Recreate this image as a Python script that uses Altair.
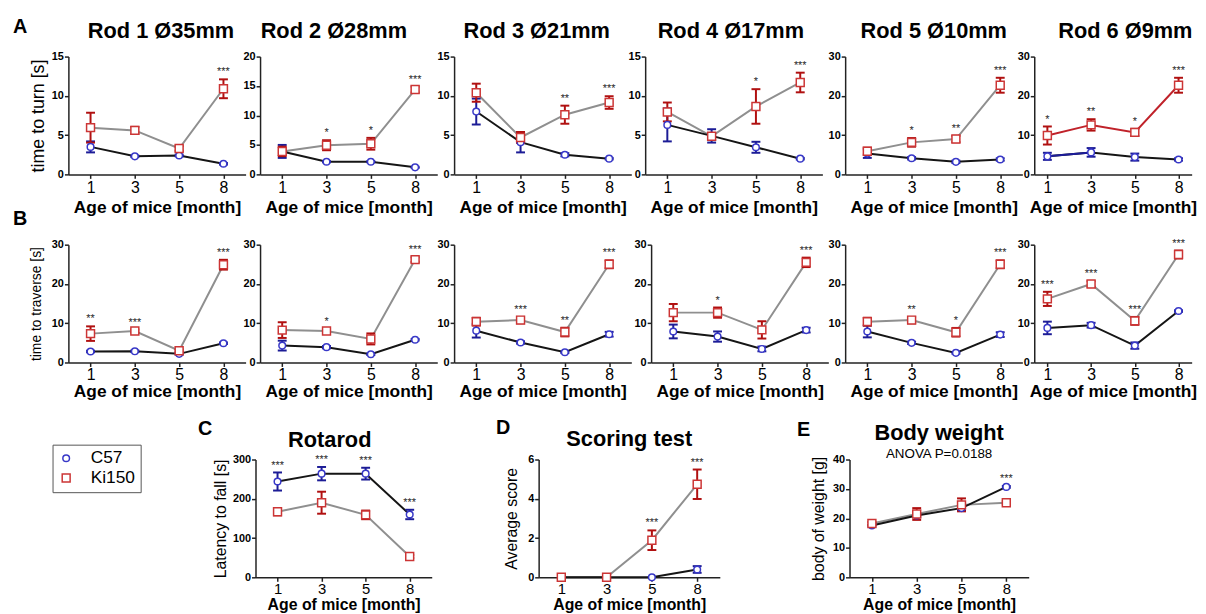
import altair as alt
import pandas as pd

FONT = "Liberation Sans"

months = [1, 3, 5, 8]
groups = ["C57", "Ki150"]

# ---------- A: time to turn [s] ----------
rod_titles = ["Rod 1 Ø35mm", "Rod 2 Ø28mm", "Rod 3 Ø21mm", "Rod 4 Ø17mm", "Rod 5 Ø10mm", "Rod 6 Ø9mm"]
turn_ymax = [15, 20, 15, 15, 30, 30]
turn_ystep = [5, 5, 5, 5, 10, 10]
turn_c57_mean = [[3.5, 2.3, 2.4, 1.35], [3.9, 2.15, 2.15, 1.2], [8.0, 4.1, 2.5, 2.0],
                 [6.3, 4.9, 3.45, 2.0], [5.3, 4.1, 3.2, 3.8], [4.6, 5.6, 4.4, 3.8]]
turn_c57_sd = [[0.7, 0.1, 0.1, 0.1], [1.1, 0.1, 0.1, 0.1], [1.65, 1.3, 0.2, 0.1],
               [2.1, 0.85, 0.7, 0.1], [1.1, 0.3, 0.3, 0.3], [0.9, 1.1, 0.9, 0.3]]
turn_ki_mean = [[5.95, 5.6, 3.3, 10.9], [3.9, 4.95, 5.2, 14.4], [10.4, 4.7, 7.6, 9.15],
                [7.95, 4.85, 8.65, 11.7], [5.9, 8.15, 9.0, 22.7], [9.9, 12.6, 10.7, 22.7]]
turn_ki_sd = [[1.9, 0.45, 0.3, 1.2], [0.8, 0.85, 1.0, 0.5], [1.15, 0.7, 1.15, 0.8],
              [1.2, 0.4, 2.2, 1.25], [0.9, 1.1, 0.8, 1.9], [2.3, 1.45, 0.9, 1.9]]
turn_stars = [["", "", "", "***"], ["", "*", "*", "***"], ["", "", "**", "***"],
              ["", "", "*", "***"], ["", "*", "**", "***"], ["*", "**", "*", "***"]]

# ---------- B: time to traverse [s] ----------
trav_c57_mean = [[2.8, 2.85, 2.2, 4.9], [4.3, 3.9, 2.1, 5.8], [8.1, 5.1, 2.6, 7.2],
                 [7.9, 6.6, 3.45, 8.25], [7.9, 5.0, 2.45, 7.1], [8.8, 9.5, 4.3, 13.1]]
trav_c57_sd = [[0.2, 0.2, 0.2, 0.2], [1.25, 0.3, 0.2, 0.2], [1.75, 0.3, 0.2, 0.6],
               [1.75, 1.3, 0.6, 0.6], [1.5, 0.3, 0.2, 0.6], [1.6, 0.6, 0.8, 0.2]]
trav_ki_mean = [[7.35, 8.0, 3.0, 24.9], [8.25, 8.0, 6.0, 26.2], [10.4, 10.8, 7.75, 25.0],
                [12.7, 12.7, 8.3, 25.5], [10.4, 10.8, 7.7, 25.0], [16.2, 20.0, 10.6, 27.5]]
trav_ki_sd = [[1.85, 0.4, 0.3, 1.25], [2.0, 0.6, 1.4, 0.6], [1.0, 0.8, 1.1, 1.0],
              [2.2, 1.3, 2.2, 1.2], [1.0, 0.8, 1.1, 1.0], [1.8, 0.7, 1.0, 1.0]]
trav_stars = [["**", "***", "", "***"], ["", "*", "", "***"], ["", "***", "**", "***"],
              ["", "*", "", "***"], ["", "**", "*", "***"], ["***", "***", "***", "***"]]

# ---------- C: Rotarod ----------
rot_c57_mean = [244, 264, 264, 160]
rot_c57_sd = [23, 17, 15, 12]
rot_ki_mean = [167, 190, 159, 53]
rot_ki_sd = [9, 28, 11, 4]
rot_stars = ["***", "***", "***", "***"]

# ---------- D: Scoring test ----------
score_c57_mean = [0, 0, 0, 0.4]
score_c57_sd = [0, 0, 0, 0.17]
score_ki_mean = [0, 0, 1.89, 4.74]
score_ki_sd = [0, 0, 0.5, 0.75]
score_stars = ["", "", "***", "***"]

# ---------- E: Body weight ----------
wt_c57_mean = [17.6, 21.0, 23.5, 30.7]
wt_c57_sd = [0.3, 0.5, 0.8, 0.3]
wt_ki_mean = [18.25, 21.5, 24.6, 25.3]
wt_ki_sd = [0.5, 2.0, 2.2, 0.5]
wt_stars = ["", "", "", "***"]

BLUE_PT = "#3838c8"
BLUE_ERR = "#1c1c96"
BLUE_LINE = "#1c1c9a"
RED_PT = "#cc3535"
RED_ERR = "#b01010"
GRAY_LINE = "#8f8f8f"
BLACK_LINE = "#151515"
RED_LINE = "#c0222a"

LEG = alt.Legend(title=None, orient="none", legendX=-16, legendY=392, labelFontSize=17.5,
                 labelFont=FONT, symbolSize=80, symbolStrokeWidth=1.5, labelOffset=16,
                 padding=5, strokeColor="#555555", rowPadding=1)


def text_layer(txt, x, y, size, weight="bold", align="left"):
    return alt.Chart(pd.DataFrame({"t": [txt]})).mark_text(
        fontSize=size, fontWeight=weight, align=align, baseline="alphabetic",
        color="black", font=FONT).encode(x=alt.value(x), y=alt.value(y), text="t:N")


def panel(c57m, c57s, kim, kis, stars, ymax, ystep, W=179, H=119, title=None, title_x=None,
          title_y=-19, letter=None, letter_x=-56, letter_y=-24, ytitle=None, ytitle_size=18,
          ytitle_pad=4, ki_line=GRAY_LINE, c57_line=BLACK_LINE, c57_first_seg=None,
          subtitle=None, subtitle_y=-2, xlab_size=16, xtitle_size=17.5, xtitle_pad=3,
          xlab_pad=1, xpad=0.5):
    rows = []
    for g, mm, ss in (("C57", c57m, c57s), ("Ki150", kim, kis)):
        for mo, v, e in zip(months, mm, ss):
            rows.append({"month": mo, "group": g, "mean": v, "lo": v - e, "hi": v + e, "sd": e})
    df = pd.DataFrame(rows)
    sdf = pd.DataFrame({"month": months, "star": stars,
                        "top": [max(a + b, c + d) for a, b, c, d in zip(c57m, c57s, kim, kis)]})
    sdf = sdf[sdf["star"] != ""]

    xax = alt.Axis(title="Age of mice [month]", labelAngle=0, labelFontSize=xlab_size,
                   titleFontSize=xtitle_size, titlePadding=xtitle_pad, labelPadding=xlab_pad)
    X = alt.X("month:O", scale=alt.Scale(type="point", domain=months, padding=xpad), axis=xax)
    yax = alt.Axis(values=list(range(0, ymax + 1, ystep)), title=ytitle,
                   titleFontSize=ytitle_size, titlePadding=ytitle_pad)
    ysc = alt.Scale(domain=[0, ymax], nice=False)

    def Y(f):
        return alt.Y(f"{f}:Q", scale=ysc, axis=yax)

    base = alt.Chart(df)
    layers = []
    for g, col in (("Ki150", ki_line), ("C57", c57_line)):
        layers.append(base.transform_filter(alt.datum.group == g)
                      .mark_line(color=col, strokeWidth=2).encode(x=X, y=Y("mean")))
    if c57_first_seg:
        layers.append(base.transform_filter((alt.datum.group == "C57") & (alt.datum.month <= 3))
                      .mark_line(color=c57_first_seg, strokeWidth=2).encode(x=X, y=Y("mean")))
    for g, col in (("C57", BLUE_ERR), ("Ki150", RED_ERR)):
        b = base.transform_filter((alt.datum.group == g) & (alt.datum.sd > 0))
        layers.append(b.mark_rule(color=col, strokeWidth=2).encode(x=X, y=Y("lo"), y2="hi:Q"))
        layers.append(b.mark_tick(color=col, thickness=2, size=9, orient="horizontal", opacity=1)
                      .encode(x=X, y=Y("lo")))
        layers.append(b.mark_tick(color=col, thickness=2, size=9, orient="horizontal", opacity=1)
                      .encode(x=X, y=Y("hi")))
    layers.append(base.mark_point(filled=False, fill="white", fillOpacity=1, strokeWidth=1.5, opacity=1)
                  .encode(x=X, y=Y("mean"),
                          color=alt.Color("group:N", scale=alt.Scale(domain=groups, range=[BLUE_PT, RED_PT]), legend=LEG),
                          shape=alt.Shape("group:N", scale=alt.Scale(domain=groups, range=["circle", "square"]), legend=LEG),
                          size=alt.Size("group:N", scale=alt.Scale(domain=groups, range=[45, 64]), legend=None)))
    layers.append(alt.Chart(sdf).mark_text(fontSize=11, color="#2a2a2a", baseline="bottom", dy=-2, font=FONT)
                  .encode(x=X, y=Y("top"), text="star:N"))
    if title:
        layers.append(text_layer(title, W / 2 if title_x is None else title_x, title_y, 22, align="center"))
    if subtitle:
        layers.append(text_layer(subtitle, W / 2, subtitle_y, 13.5, weight="normal", align="center"))
    if letter:
        layers.append(text_layer(letter, letter_x, letter_y, 20))
    return alt.layer(*layers).properties(width=W, height=H)


def chain(panels, spacings):
    c = panels[0]
    for p, s in zip(panels[1:], spacings):
        c = alt.hconcat(c, p, spacing=s)
    return c


title_x_A = [93.5, 74.5, 83.5, 86.5, 89.5, 92]
spacing_A = [-4.4, -2.4, -5.4, 3.6, -7.4]
spacing_B = [-4.4, -2.4, 0.6, -2.4, -7.4]

rowA = []
for i in range(6):
    rowA.append(panel(turn_c57_mean[i], turn_c57_sd[i], turn_ki_mean[i], turn_ki_sd[i], turn_stars[i],
                      turn_ymax[i], turn_ystep[i], title=rod_titles[i], title_x=title_x_A[i],
                      W=159 if i == 5 else 179, xpad=0.3 if i == 5 else 0.5,
                      letter="A" if i == 0 else None,
                      ytitle="time to turn [s]" if i == 0 else None, ytitle_size=18,
                      ki_line=RED_LINE if i == 5 else GRAY_LINE,
                      c57_first_seg=BLUE_LINE if i == 5 else None))
rowB = []
for i in range(6):
    rowB.append(panel(trav_c57_mean[i], trav_c57_sd[i], trav_ki_mean[i], trav_ki_sd[i], trav_stars[i],
                      30, 10, letter="B" if i == 0 else None, letter_y=-20,
                      W=159 if i == 5 else 179, xpad=0.3 if i == 5 else 0.5,
                      ytitle="time to traverse [s]" if i == 0 else None, ytitle_size=14, ytitle_pad=8,
                      xtitle_pad=0, xlab_pad=0))

pC = panel(rot_c57_mean, rot_c57_sd, rot_ki_mean, rot_ki_sd, rot_stars, 300, 100, W=178,
           title="Rotarod", title_x=75, title_y=-13, letter="C", letter_x=-58, letter_y=-25,
           ytitle="Latency to fall [s]", ytitle_size=16,
           xlab_size=15, xtitle_size=16, xtitle_pad=0, xlab_pad=0)
pD = panel(score_c57_mean, score_c57_sd, score_ki_mean, score_ki_sd, score_stars, 6, 2, W=183,
           title="Scoring test", title_y=-14, letter="D", letter_x=-43, letter_y=-26,
           ytitle="Average score", ytitle_size=16, ytitle_pad=8,
           xlab_size=15, xtitle_size=16, xtitle_pad=0, xlab_pad=0)
pE = panel(wt_c57_mean, wt_c57_sd, wt_ki_mean, wt_ki_sd, wt_stars, 40, 10, W=181,
           title="Body weight", title_y=-19.5, subtitle="ANOVA P=0.0188", subtitle_y=-2,
           letter="E", letter_x=-53, letter_y=-24,
           ytitle="body of weight [g]", ytitle_size=16, ytitle_pad=6,
           xlab_size=15, xtitle_size=16, xtitle_pad=0, xlab_pad=0)

# empty block that keeps the space taken by the legend on the left of row C
spacer = alt.Chart(pd.DataFrame({"t": [""]})).mark_text(opacity=0).encode(
    text="t:N").properties(width=130, height=10)

top = alt.vconcat(chain(rowA, spacing_A), chain(rowB, spacing_B), spacing=-8)
rowC = chain([spacer, pC, pD, pE], [0, 63, 76])

chart = alt.vconcat(top, rowC, spacing=17).properties(
    padding={"left": 4, "top": 5, "right": 0, "bottom": 0}
).configure(font=FONT, background="white").configure_axis(
    domainColor="#222222", domainWidth=1.5, tickColor="#222222", tickWidth=1.5, tickSize=4,
    grid=False, labelColor="black", titleColor="black", labelFont=FONT, titleFont=FONT
).configure_axisY(
    labelFontWeight="bold", labelFontSize=11, titleFontWeight="normal", labelPadding=1
).configure_axisX(
    titleFontWeight="bold", labelFontWeight="normal"
).configure_view(stroke="transparent")

chart.save("out.html", embed_options={"renderer": "svg", "actions": False})
